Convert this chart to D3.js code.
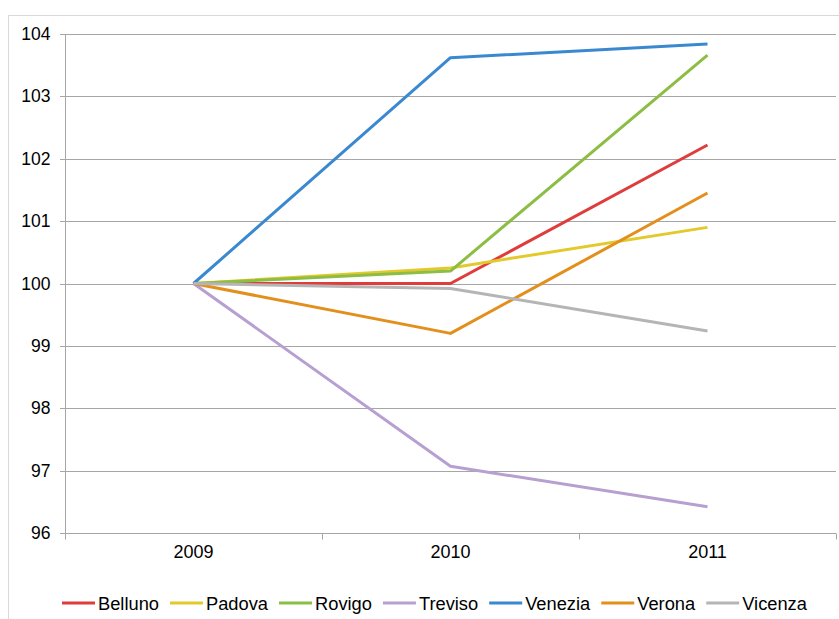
<!DOCTYPE html>
<html>
<head>
<meta charset="utf-8">
<script src="https://cdn.jsdelivr.net/npm/d3@7/dist/d3.min.js"></script>
<style>
  html, body { margin: 0; padding: 0; background: #fff; }
  svg { display: block; font-family: "Liberation Sans", Arial, sans-serif; }
</style>
</head>
<body>
<svg id="chart" width="839" height="619"></svg>
<script>
// Index values per province (2009 = 100)
const years = ["2009", "2010", "2011"];
const provinces = ["Belluno", "Padova", "Rovigo", "Treviso", "Venezia", "Verona", "Vicenza"];
const belluno = [100, 100.0, 102.22];
const padova  = [100, 100.25, 100.90];
const rovigo  = [100, 100.20, 103.66];
const treviso = [100, 97.07, 96.42];
const venezia = [100, 103.62, 103.84];
const verona  = [100, 99.20, 101.45];
const vicenza = [100, 99.92, 99.24];
const yTicks = [96, 97, 98, 99, 100, 101, 102, 103, 104];
const colors = ["#DE3D3C", "#E2CA2C", "#8CBD45", "#B79FD1", "#3A88D0", "#E38F1C", "#B5B5B5"];

const seriesValues = [belluno, padova, rovigo, treviso, venezia, verona, vicenza];
const series = provinces.map((name, i) => ({
  name, color: colors[i],
  values: years.map((y, j) => ({ year: y, value: seriesValues[i][j] }))
}));

const svg = d3.select("#chart");
const font = "Liberation Sans, Arial, sans-serif";

// Outer frame
svg.append("rect")
  .attr("x", 8.5).attr("y", 15.5)
  .attr("width", 900).attr("height", 700)
  .attr("fill", "none").attr("stroke", "#d9d9d9").attr("stroke-width", 1);

const x = d3.scaleBand().domain(years).range([65, 836]);
const y = d3.scaleLinear().domain([96, 104]).range([533, 34]);

// Horizontal gridlines
svg.append("g").selectAll("line").data(yTicks).join("line")
  .attr("x1", 60).attr("x2", 836)
  .attr("y1", d => Math.round(y(d)) + 0.5).attr("y2", d => Math.round(y(d)) + 0.5)
  .attr("stroke", "#a6a6a6").attr("stroke-width", 1);

// Y axis
const yAxis = svg.append("g").attr("transform", "translate(65.5,0)")
  .call(d3.axisLeft(y).tickValues(yTicks).tickSize(0).tickPadding(15).tickFormat(d3.format("d")));
yAxis.select(".domain").attr("stroke", "#a6a6a6").attr("d", `M0,${y(104)}V${y(96) + 5}`);
yAxis.selectAll("text").attr("font-size", 17.5).attr("fill", "#000").attr("font-family", font);

// X axis
const xAxis = svg.append("g").attr("transform", `translate(0,${Math.round(y(96)) + 0.5})`)
  .call(d3.axisBottom(x).tickSize(0).tickPadding(12));
xAxis.select(".domain").remove();
xAxis.selectAll("text").attr("font-size", 18).attr("fill", "#000").attr("font-family", font);
const bounds = years.map(d => x(d)).concat([x(years[years.length - 1]) + x.bandwidth()]);
xAxis.selectAll("line.bound").data(bounds).join("line").attr("class", "bound")
  .attr("x1", d => Math.round(d) + 0.5).attr("x2", d => Math.round(d) + 0.5)
  .attr("y1", 0).attr("y2", 6).attr("stroke", "#a6a6a6");
xAxis.append("line").attr("x1", 60).attr("x2", 836).attr("y1", 0).attr("y2", 0)
  .attr("stroke", "#a6a6a6");

// Lines
const line = d3.line()
  .x(d => x(d.year) + x.bandwidth() / 2)
  .y(d => y(d.value));
svg.append("g").selectAll("path").data(series).join("path")
  .attr("d", d => line(d.values))
  .attr("fill", "none")
  .attr("stroke", d => d.color)
  .attr("stroke-width", 3)
  .attr("stroke-linejoin", "round");

// Legend
const legend = svg.append("g").attr("transform", "translate(62,603)");
let lx = 0;
series.forEach(s => {
  const g = legend.append("g").attr("transform", `translate(${lx},0)`);
  g.append("line").attr("x1", 0).attr("x2", 33).attr("y1", 0).attr("y2", 0)
    .attr("stroke", s.color).attr("stroke-width", 3);
  const t = g.append("text").attr("x", 36).attr("y", 6.5)
    .attr("font-size", 18.3).attr("fill", "#000").attr("font-family", font).text(s.name);
  lx += 36 + t.node().getComputedTextLength() + 11;
});
</script>
</body>
</html>
